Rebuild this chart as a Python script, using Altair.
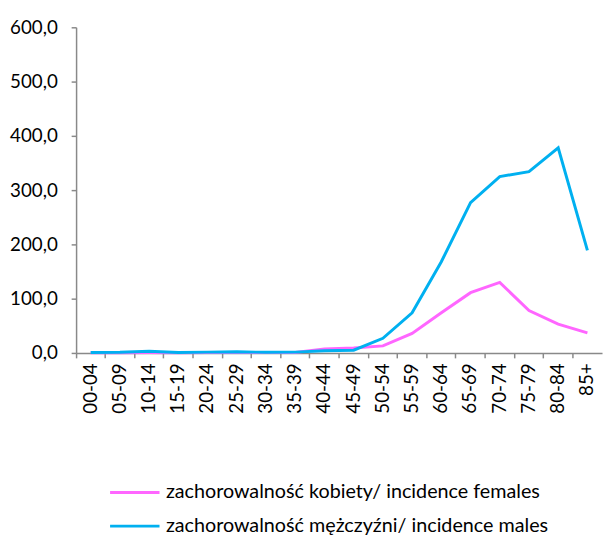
import altair as alt
import pandas as pd

age_groups = ["00-04", "05-09", "10-14", "15-19", "20-24", "25-29", "30-34", "35-39",
              "40-44", "45-49", "50-54", "55-59", "60-64", "65-69", "70-74", "75-79",
              "80-84", "85+"]
females = [0.5, 0.4, 0.8, 0.5, 0.6, 1.0, 0.8, 1.0, 7.5, 9.0, 13.0, 36.0, 74.0, 111.0, 130.0, 78.0, 53.0, 37.0]
males = [1.0, 1.2, 3.0, 1.0, 1.5, 2.0, 1.2, 1.5, 4.0, 5.0, 27.0, 74.0, 168.0, 277.0, 325.0, 334.0, 378.0, 189.0]
series_names = ["zachorowalność kobiety/ incidence females",
                "zachorowalność mężczyźni/ incidence males"]
series_colors = ["#FF66FF", "#00B0F0"]
y_ticks = [0, 100, 200, 300, 400, 500, 600]

rows = []
for name, vals in zip(series_names, [females, males]):
    for a, v in zip(age_groups, vals):
        rows.append({"age": a, "value": v, "series": name})
df = pd.DataFrame(rows)

FONT = "Lato"
FS = 19

chart = alt.Chart(df).mark_line(strokeWidth=3).encode(
    x=alt.X("age:N", sort=age_groups, bandPosition=0.5,
            scale=alt.Scale(type="band", paddingInner=0, paddingOuter=0),
            axis=alt.Axis(title=None, labelAngle=-90, bandPosition=0,
                          domainColor="#898989", tickColor="#898989",
                          domainWidth=1.5, tickWidth=1.5, tickSize=5,
                          labelFont=FONT, labelFontSize=FS, labelColor="#000000",
                          labelPadding=5, grid=False)),
    y=alt.Y("value:Q",
            scale=alt.Scale(domain=[0, 600], nice=False),
            axis=alt.Axis(title=None, values=y_ticks,
                          labelExpr="replace(format(datum.value, '.1f'), '.', ',')",
                          domainColor="#898989", tickColor="#898989",
                          domainWidth=1.5, tickWidth=1.5, tickSize=5,
                          labelFont=FONT, labelFontSize=FS, labelColor="#000000",
                          labelPadding=14, grid=False)),
    color=alt.Color("series:N", sort=series_names,
                    scale=alt.Scale(domain=series_names, range=series_colors),
                    legend=alt.Legend(title=None, orient="none", legendX=43, legendY=455,
                                      direction="vertical",
                                      symbolType="M-1.67,0H1.67", symbolSize=900,
                                      symbolStrokeWidth=3, rowPadding=7,
                                      labelOffset=15, labelFont=FONT, labelFontSize=20,
                                      labelColor="#000000", labelLimit=500)),
).properties(
    width=533, height=330,
    autosize=alt.AutoSizeParams(type="none"),
    padding={"left": 69, "top": 16, "right": 2, "bottom": 186},
).configure_view(stroke=None)

chart.save("out.html", embed_options={"renderer": "svg", "actions": False})
